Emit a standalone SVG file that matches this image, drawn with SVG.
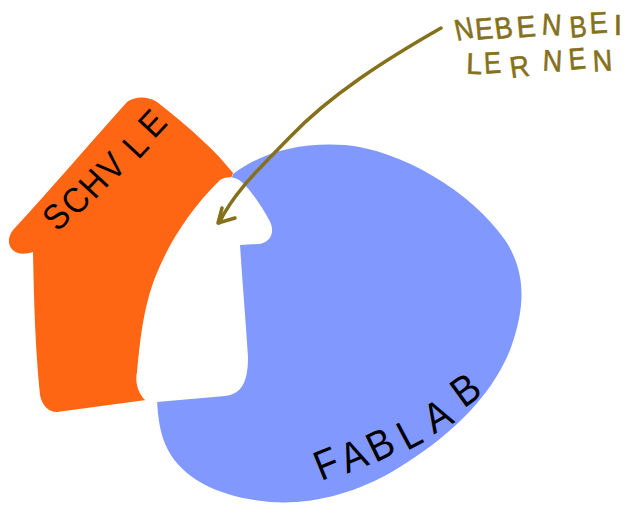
<svg xmlns="http://www.w3.org/2000/svg" width="631" height="506" viewBox="0 0 631 506">
<style>
.l{font-family:"Liberation Sans",Arial,sans-serif;text-anchor:middle}
.k{font-size:42px;fill:#000}
.s{font-size:36px}
.o{font-size:30px;fill:#85701c;stroke:#85701c;stroke-width:.6px}
</style>
<rect width="631" height="506" fill="#fff"/>
<g id="fablab">
<path d="M233 174C262 152 300 142 345 145C400 150 470 190 505 240C525 270 527 305 510 350C490 400 445 440 395 470C355 494 310 505 270 502C225 498 185 482 168 450C160 435 158 418 157 400Z" fill="#8199ff"/>
<g class="l k">
<text y=".36em" transform="translate(326 463) rotate(-22) scale(.9 1)">F</text>
<text y=".36em" transform="translate(353 455) rotate(-22) scale(.9 1)">A</text>
<text y=".36em" transform="translate(380 444) rotate(-26) scale(.9 1)">B</text>
<text y=".36em" transform="translate(409 433) rotate(-28) scale(.9 1)">L</text>
<text y=".36em" transform="translate(437 415) rotate(-30) scale(.9 1)">A</text>
<text y=".36em" transform="translate(465 389) rotate(-36) scale(.9 1)">B</text>
</g>
</g>
<g id="schule">
<path d="M33 252C34 300 35 345 40 395C42 405 48 412 57 412L146 400L233 173C215 150 190 128 157 102C148 96 135 96 127 102C90 143 50 190 13 230C3 243 12 259 33 252Z" fill="#ff6614"/>
<g class="l k s">
<text y=".36em" transform="translate(56 216) rotate(-47) scale(.9 1)">S</text>
<text y=".36em" transform="translate(75 200) rotate(-47) scale(.9 1)">C</text>
<text y=".36em" transform="translate(93 183) rotate(-47) scale(.9 1)">H</text>
<text y=".36em" transform="translate(111 166) rotate(-47) scale(.9 1)">V</text>
<text y=".36em" transform="translate(135 145) rotate(-47) scale(.9 1)">L</text>
<text y=".36em" transform="translate(152 123) rotate(-47) scale(.9 1)">E</text>
</g>
</g>
<g id="nebenbei-lernen">
<path d="M220 180C226 176 236 175 245 185C254 195 262 207 268 218C277 232 270 243 258 244L240 245C243 290 246 325 248 357C248 385 240 394 225 396L157 402L145 400C137 392 135 380 137 372C140 340 143 312 153 283C165 250 187 212 220 180Z" fill="#fff"/>
<g class="l o">
<text transform="translate(466 39) rotate(-12) scale(.85 1)">N</text>
<text transform="translate(485 39) rotate(-5) scale(.9 1)">E</text>
<text transform="translate(505 38) rotate(-8) scale(.9 1)">B</text>
<text transform="translate(527 37) rotate(-5) scale(.95 1)">E</text>
<text transform="translate(551 35) rotate(4) scale(.9 1)">N</text>
<text transform="translate(579 37) rotate(-5) scale(.85 1)">B</text>
<text transform="translate(599 33) rotate(-3) scale(.9 1)">E</text>
<text transform="translate(618 35) rotate(0)">I</text>
<text transform="translate(474 74) rotate(2) scale(.95 1)">L</text>
<text transform="translate(493 73) rotate(-3) scale(.85 1)">E</text>
<text transform="translate(521 77) rotate(-8) scale(.9 1)">R</text>
<text transform="translate(552 71) rotate(3) scale(.9 1)">N</text>
<text transform="translate(578 69) rotate(-5) scale(.85 1)">E</text>
<text transform="translate(603 71) rotate(-3) scale(.9 1)">N</text>
</g>
</g>
<g id="connectors">
<path d="M441 28C385 60 330 95 290 137C265 163 235 190 219 223" fill="none" stroke="#85701c" stroke-width="3.5" stroke-linecap="round"/>
<path d="M222 208L218 223L235 218" fill="none" stroke="#85701c" stroke-width="3.5" stroke-linecap="round" stroke-linejoin="round"/>
</g>
</svg>
